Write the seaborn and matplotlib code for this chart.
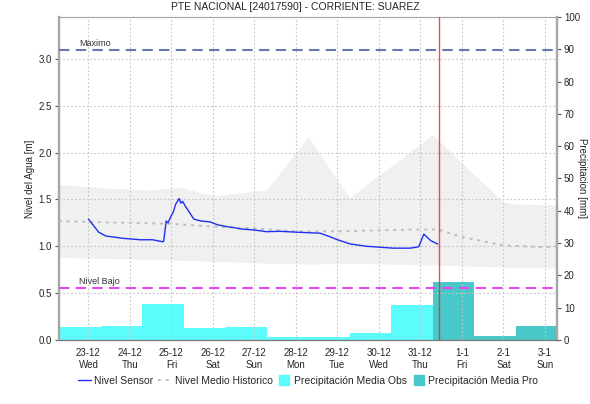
import matplotlib
matplotlib.use("Agg")
import matplotlib.pyplot as plt
import matplotlib.dates as mdates
from matplotlib.lines import Line2D
import numpy as np
import pandas as pd
import seaborn as sns

# ---- data -------------------------------------------------------------
title = "PTE NACIONAL [24017590] - CORRIENTE: SUAREZ"

sensor_time = [
    "2015-12-23 00:00", "2015-12-23 06:00", "2015-12-23 10:00", "2015-12-23 20:00",
    "2015-12-24 06:00", "2015-12-24 13:00", "2015-12-24 18:30", "2015-12-24 19:30",
    "2015-12-24 21:00", "2015-12-24 22:00", "2015-12-25 00:00", "2015-12-25 01:00",
    "2015-12-25 02:30", "2015-12-25 04:30", "2015-12-25 05:30", "2015-12-25 06:30",
    "2015-12-25 08:00", "2015-12-25 13:00", "2015-12-25 17:00", "2015-12-25 22:30",
    "2015-12-26 02:30", "2015-12-26 08:00", "2015-12-26 12:00", "2015-12-26 16:00",
    "2015-12-26 23:30", "2015-12-27 07:00", "2015-12-27 15:00", "2015-12-28 01:00",
    "2015-12-28 14:00", "2015-12-28 20:00", "2015-12-29 00:00", "2015-12-29 07:30",
    "2015-12-29 17:00", "2015-12-30 08:30", "2015-12-30 18:00", "2015-12-30 23:00",
    "2015-12-31 02:00", "2015-12-31 06:00", "2015-12-31 10:00",
]
sensor_level = [
    1.29, 1.15, 1.11, 1.085,
    1.07, 1.07, 1.05, 1.05,
    1.27, 1.25, 1.33, 1.36,
    1.45, 1.51, 1.46, 1.48,
    1.43, 1.29, 1.27, 1.26,
    1.23, 1.21, 1.20, 1.185,
    1.175, 1.156, 1.16, 1.15,
    1.14, 1.10, 1.07, 1.025,
    1.00, 0.98, 0.98, 0.995,
    1.13, 1.06, 1.025,
]

hist_time = [
    "2015-12-22 07:00", "2015-12-23 00:00", "2015-12-24 00:00", "2015-12-25 00:00",
    "2015-12-26 00:00", "2015-12-27 00:00", "2015-12-28 00:00", "2015-12-29 00:00",
    "2015-12-30 00:00", "2015-12-31 00:00", "2015-12-31 10:00", "2016-01-01 00:00",
    "2016-01-02 00:00", "2016-01-03 00:00", "2016-01-03 07:00",
]
hist_mean = [1.27, 1.26, 1.25, 1.24, 1.21, 1.19, 1.16, 1.16,
             1.17, 1.18, 1.18, 1.10, 1.01, 0.99, 1.00]

band_time = [
    "2015-12-22 07:00", "2015-12-23 12:00", "2015-12-24 12:00", "2015-12-25 05:00",
    "2015-12-26 00:00", "2015-12-27 07:00", "2015-12-28 07:00", "2015-12-29 07:00",
    "2015-12-31 07:00", "2016-01-02 00:00", "2016-01-02 07:00", "2016-01-03 07:00",
]
band_upper = [1.66, 1.62, 1.60, 1.63, 1.54, 1.60, 2.17, 1.52, 2.19, 1.47, 1.45, 1.44]
band_lower = [0.88, 0.87, 0.86, 0.85, 0.84, 0.82, 0.81, 0.82, 0.80, 0.78, 0.77, 0.77]

# daily precipitation, each day starting at 07:00
precip_obs_start = ["2015-12-22", "2015-12-23", "2015-12-24", "2015-12-25", "2015-12-26",
                    "2015-12-27", "2015-12-28", "2015-12-29", "2015-12-30"]
precip_obs = [3.9, 4.3, 11.2, 3.6, 3.9, 0.8, 0.9, 2.1, 10.9]
precip_pro_start = ["2015-12-31", "2016-01-01", "2016-01-02"]
precip_pro = [18.0, 1.3, 4.4]

level_max = 3.10
level_low = 0.555
now = "2015-12-31 11:00"

day_labels = ["23-12\nWed", "24-12\nThu", "25-12\nFri", "26-12\nSat", "27-12\nSun",
              "28-12\nMon", "29-12\nTue", "30-12\nWed", "31-12\nThu", "1-1\nFri",
              "2-1\nSat", "3-1\nSun"]
day_ticks = pd.date_range("2015-12-23", periods=len(day_labels), freq="D")

# ---- style ------------------------------------------------------------
sns.set_style("white")
plt.rcParams["font.family"] = ["Liberation Sans", "DejaVu Sans"]
plt.rcParams["font.size"] = 7

LEVEL_TOP = 3.447
C_SENSOR = "#1f2ff0"
C_HIST = "#bdbdbd"
C_OBS = "#5cfcfc"
C_PRO = "#48c8c8"

fig = plt.figure(figsize=(5.9, 4.04), dpi=100)
ax = fig.add_axes([59 / 590, 1 - 340 / 404, (557 - 59) / 590, (340 - 17) / 404])
ax2 = ax.twinx()

ax.set_zorder(2)
ax.patch.set_visible(False)

x0 = pd.Timestamp("2015-12-22 07:00")
x1 = pd.Timestamp("2016-01-03 07:00")

# precipitation bars on the right axis
offset = pd.Timedelta(hours=7)
obs_x = pd.to_datetime(precip_obs_start) + offset
pro_x = pd.to_datetime(precip_pro_start) + offset
ax2.bar(obs_x, precip_obs, width=1.0, align="edge", color=C_OBS, linewidth=0, zorder=2)
ax2.bar(pro_x, precip_pro, width=1.0, align="edge", color=C_PRO, linewidth=0, zorder=2)
ax2.set_ylim(0, 100)
ax2.set_yticks(np.arange(0, 101, 10))
ax2.set_ylabel("Precipitacion [mm]", rotation=270, fontsize=7, va="center")
ax2.yaxis.set_label_coords(1.05, 0.5)

# historic envelope, drawn behind the bars and lines
bt = pd.to_datetime(band_time)
ax2.fill_between(bt, np.array(band_lower) / LEVEL_TOP * 100,
                 np.array(band_upper) / LEVEL_TOP * 100,
                 color="#f0f0f0", linewidth=0, zorder=1)

# level lines
ax.set_ylim(0, LEVEL_TOP)
ax.set_xlim(x0, x1)
ax.set_yticks(np.arange(0, 3.01, 0.5))
ax.yaxis.set_major_formatter(matplotlib.ticker.FormatStrFormatter("%.1f"))
ax.grid(True, which="major", axis="both", color="#c4c4c4", linestyle=(0, (1.5, 2)), linewidth=0.8)

hist_df = pd.DataFrame({"t": pd.to_datetime(hist_time), "v": hist_mean})
sens_df = pd.DataFrame({"t": pd.to_datetime(sensor_time), "v": sensor_level})
sns.lineplot(data=hist_df, x="t", y="v", ax=ax, color=C_HIST,
             linestyle=(0, (1.5, 2.5)), linewidth=1.4, zorder=3)
sns.lineplot(data=sens_df, x="t", y="v", ax=ax, color=C_SENSOR, linewidth=1.0, zorder=4)

ax.axhline(level_max, color="#6a78b0", linestyle=(0, (5, 3)), linewidth=1.5, zorder=5)
ax.axhline(level_low, color="#ee44ee", linestyle=(0, (5, 3)), linewidth=1.5, zorder=5)
ax.text(pd.Timestamp("2015-12-22 18:30"), level_max + 0.02, "Maximo", fontsize=6.5,
        color="#333333", va="bottom", ha="left")
ax.text(pd.Timestamp("2015-12-22 18:30"), level_low + 0.02, "Nivel Bajo", fontsize=6.5,
        color="#333333", va="bottom", ha="left")
ax.axvline(pd.Timestamp(now), color="#e03030", linewidth=1.0, alpha=0.85, zorder=6)

ax.set_xticks(day_ticks)
ax.set_xticklabels(day_labels)
ax.xaxis.set_minor_locator(mdates.HourLocator(interval=2))
ax.tick_params(axis="x", which="major", length=3, color="#555555", pad=3, labelsize=7)
ax.tick_params(axis="x", which="minor", length=1.5, color="#555555")
ax.tick_params(axis="y", length=3, color="#555555", labelsize=7, pad=2)
ax2.tick_params(axis="y", length=3, color="#555555", labelsize=7, pad=2)
ax.set_xlabel("")
ax.set_ylabel("Nivel del Agua [m]", fontsize=7, labelpad=3)

for a in (ax, ax2):
    a.spines["left"].set_color("#a8a8a8")
    a.spines["left"].set_linewidth(1.6)
    a.spines["right"].set_color("#a8a8a8")
    a.spines["right"].set_linewidth(1.6)
    a.spines["top"].set_color("#a8a8a8")
    a.spines["top"].set_linewidth(0.8)
    a.spines["bottom"].set_color("#777777")
    a.spines["bottom"].set_linewidth(0.8)

fig.suptitle(title, y=1 - 7 / 404, va="center", fontsize=7.5)

handles = [
    Line2D([], [], color=C_SENSOR, linewidth=1.0),
    Line2D([], [], color=C_HIST, linestyle=(0, (1.5, 2.5)), linewidth=1.4),
    Line2D([], [], color=C_OBS, marker="s", linestyle="none", markersize=7),
    Line2D([], [], color=C_PRO, marker="s", linestyle="none", markersize=7),
]
labels = ["Nivel Sensor", "Nivel Medio Historico", "Precipitación Media Obs",
          "Precipitación Media Pro"]
fig.legend(handles, labels, loc="center", bbox_to_anchor=(0.522, 1 - 381 / 404), ncol=4,
           frameon=False, fontsize=7.5, handlelength=1.3, handleheight=1.0,
           columnspacing=0.5, handletextpad=0.25)

fig.savefig("out.png", dpi=100)
